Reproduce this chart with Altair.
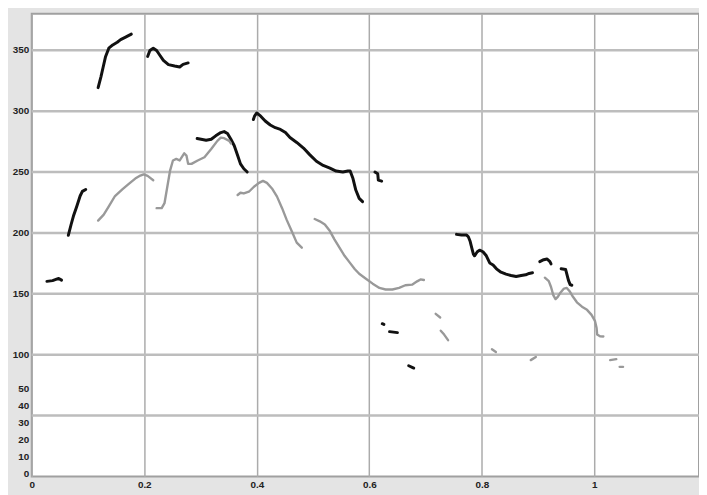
import altair as alt
import pandas as pd

# ---- pitch-track segments (time in s, F0 in Hz) ----
black_x = [
    [0.027, 0.037, 0.043, 0.048, 0.053],
    [0.065, 0.070, 0.074, 0.080, 0.086, 0.090, 0.096],
    [0.118, 0.123, 0.127, 0.131, 0.137, 0.144, 0.152, 0.158, 0.166, 0.177],
    [0.206, 0.210, 0.216, 0.222, 0.228, 0.234, 0.243, 0.254, 0.263, 0.269, 0.278],
    [0.294, 0.301, 0.310, 0.319, 0.327, 0.336, 0.342, 0.348, 0.354, 0.360, 0.366, 0.371, 0.377, 0.383],
    [0.394, 0.396, 0.400, 0.407, 0.415, 0.424, 0.433, 0.442, 0.451, 0.459, 0.471, 0.483, 0.494, 0.506,
     0.518, 0.530, 0.541, 0.553, 0.562, 0.566, 0.571, 0.576, 0.582, 0.588],
    [0.610, 0.615, 0.616, 0.622],
    [0.623, 0.626],
    [0.636, 0.643, 0.650],
    [0.670, 0.679],
    [0.755, 0.764, 0.773, 0.776, 0.779, 0.782, 0.785, 0.787, 0.792, 0.796, 0.802, 0.808, 0.814, 0.820,
     0.826, 0.834, 0.843, 0.852, 0.861, 0.870, 0.878, 0.884, 0.890],
    [0.903, 0.910, 0.916, 0.921, 0.923],
    [0.941, 0.949, 0.951, 0.954, 0.957, 0.960],
]
black_y = [
    [160.2, 160.8, 161.8, 162.6, 161.2],
    [198.0, 206.9, 213.6, 221.7, 230.3, 234.1, 235.7],
    [319.3, 328.2, 336.3, 344.4, 351.7, 354.4, 356.6, 358.7, 360.6, 363.3],
    [344.9, 349.8, 351.7, 349.8, 345.7, 341.7, 338.2, 337.1, 336.3, 338.4, 339.6],
    [277.5, 276.9, 276.1, 276.9, 279.7, 282.4, 283.2, 281.6, 276.9, 271.6, 263.5, 256.7, 252.7, 250.0],
    [293.1, 295.9, 298.5, 295.9, 291.9, 288.6, 286.4, 285.0, 282.4, 278.3, 274.3, 269.7, 264.3, 258.9,
     255.4, 253.2, 250.8, 250.0, 250.8, 250.8, 244.6, 235.2, 228.4, 225.7],
    [250.0, 248.6, 243.3, 242.5],
    [125.4, 124.8],
    [118.9, 118.5, 118.1],
    [90.9, 89.0],
    [198.8, 198.2, 198.2, 196.8, 193.4, 187.9, 182.5, 181.2, 184.5, 185.8, 184.5, 181.2, 175.3, 173.7,
     170.5, 167.7, 166.1, 165.0, 164.2, 165.0, 165.6, 166.7, 167.2],
    [176.4, 178.0, 178.6, 176.4, 174.5],
    [170.5, 169.9, 166.4, 161.0, 157.5, 157.0],
]

gray_x = [
    [0.118, 0.128, 0.137, 0.148, 0.161, 0.172, 0.184, 0.193, 0.199, 0.206, 0.216],
    [0.222, 0.231, 0.236, 0.240, 0.246, 0.251, 0.257, 0.263, 0.271, 0.275, 0.278, 0.284, 0.295, 0.307,
     0.319, 0.330, 0.336, 0.342, 0.351, 0.354],
    [0.366, 0.371, 0.377, 0.386, 0.395, 0.404, 0.411, 0.418, 0.427, 0.436, 0.445, 0.453, 0.462, 0.471, 0.480],
    [0.503, 0.512, 0.521, 0.530, 0.538, 0.547, 0.556, 0.565, 0.574, 0.582, 0.594, 0.606, 0.618, 0.629,
     0.641, 0.653, 0.664, 0.676, 0.685, 0.691, 0.697],
    [0.718, 0.726],
    [0.727, 0.733, 0.740],
    [0.818, 0.825],
    [0.887, 0.896],
    [0.912, 0.919, 0.923, 0.927, 0.931, 0.935, 0.940, 0.946, 0.951, 0.956, 0.962, 0.969, 0.978, 0.987,
     0.995, 1.001, 1.004, 1.005, 1.010, 1.016],
    [1.028, 1.039],
    [1.045, 1.051],
]
gray_y = [
    [210.1, 215.0, 221.7, 230.3, 235.8, 240.1, 244.6, 247.1, 248.1, 246.8, 243.3],
    [220.3, 220.3, 224.4, 235.2, 251.4, 259.5, 260.8, 259.5, 265.4, 263.5, 256.7, 256.7, 259.5, 262.1,
     268.9, 275.6, 278.3, 277.8, 275.6, 273.5],
    [231.1, 233.0, 232.4, 233.8, 237.9, 241.1, 242.7, 241.1, 236.5, 229.8, 220.3, 210.9, 201.5, 192.0, 187.9],
    [211.4, 209.5, 206.9, 201.5, 194.7, 187.9, 181.2, 175.8, 170.4, 166.4, 162.4, 158.3, 154.8, 153.5,
     153.5, 154.8, 157.0, 157.5, 160.2, 161.8, 161.3],
    [133.5, 130.5],
    [119.7, 116.5, 111.9],
    [104.4, 102.2],
    [95.5, 98.1],
    [163.2, 160.4, 155.6, 148.9, 145.6, 147.5, 151.1, 154.3, 154.8, 152.1, 147.5, 143.0, 139.4, 136.8,
     132.7, 127.8, 121.9, 116.5, 115.1, 114.9],
    [95.5, 96.3],
    [90.0, 90.0],
]

y_grid_values = [50, 100, 150, 200, 250, 300, 350]
y_tick_labels = [0, 10, 20, 30, 40, 50, 100, 150, 200, 250, 300, 350]
x_tick_values = [0, 0.2, 0.4, 0.6, 0.8, 1.0]

rows = []
for speaker, xs_list, ys_list in [("black", black_x, black_y), ("gray", gray_x, gray_y)]:
    for i, (xs, ys) in enumerate(zip(xs_list, ys_list)):
        for j, (x, y) in enumerate(zip(xs, ys)):
            rows.append({"t": x, "f0": y, "seg": f"{speaker}{i}", "speaker": speaker, "order": j})
df = pd.DataFrame(rows)

X_DOMAIN = [0, 1.186]
Y_DOMAIN = [0, 380]
LABEL_FONT = "Liberation Sans"

x_enc = alt.X(
    "t:Q",
    scale=alt.Scale(domain=X_DOMAIN, nice=False, zero=False),
    axis=alt.Axis(
        values=x_tick_values, format="~g", grid=True, gridColor="#ababab", gridWidth=1.5,
        ticks=False, domain=False, labelFont=LABEL_FONT, labelFontWeight="bold",
        labelFontSize=10, labelColor="#222222", labelPadding=3, labelFlush=False,
        title=None,
    ),
)

grid = alt.Chart(pd.DataFrame({"v": y_grid_values})).mark_rule(
    color="#bdbdbd", strokeWidth=2.5
).encode(
    y=alt.Y("v:Q", scale=alt.Scale(domain=Y_DOMAIN, nice=False, zero=False), axis=None)
)

lines = alt.Chart(df).mark_line(strokeCap="round", strokeJoin="round").encode(
    x=x_enc,
    y=alt.Y("f0:Q", scale=alt.Scale(domain=Y_DOMAIN, nice=False, zero=False), axis=None),
    detail="seg:N",
    order="order:Q",
    color=alt.Color("speaker:N", scale=alt.Scale(domain=["black", "gray"], range=["#111111", "#999999"]), legend=None),
    strokeWidth=alt.StrokeWidth("speaker:N", scale=alt.Scale(domain=["black", "gray"], range=[3.0, 2.4]), legend=None),
)

ylabels = alt.Chart(pd.DataFrame({"v": y_tick_labels})).mark_point(opacity=0).encode(
    y=alt.Y(
        "v:Q",
        scale=alt.Scale(domain=[0, 50, 100, 380], range=[465, 379.5, 344.5, -1.2], nice=False, zero=False),
        axis=alt.Axis(
            values=y_tick_labels, orient="left", grid=False, ticks=False, domain=False,
            labelPadding=3, labelFont=LABEL_FONT, labelFontWeight="bold", labelFontSize=10,
            labelColor="#222222", labelOverlap=False, title=None,
        ),
    )
)

chart = alt.layer(grid, lines, ylabels).resolve_scale(y="independent").properties(
    width=675,
    height=468,
    padding={"left": 24, "top": 3, "right": 0, "bottom": 16},
    autosize=alt.AutoSizeParams(type="none"),
    background="#e4e4e4",
).configure_view(fill="white", stroke="#a0a0a0", strokeWidth=2)

chart.save("out.html", embed_options={"renderer": "svg", "actions": False})
